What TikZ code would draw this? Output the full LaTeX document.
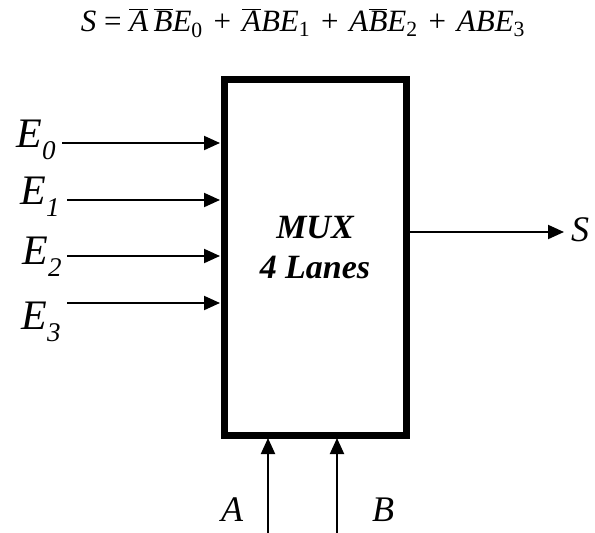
\documentclass[tikz,border=0pt]{standalone}
\usepackage{fontspec}
\setmainfont{Liberation Serif}
\usetikzlibrary{arrows.meta}
\tikzset{
  wire/.style={line width=2pt,-{Triangle[length=16pt,width=14pt]}},
  lbl/.style={inner sep=0pt,font=\fontsize{42}{42}\selectfont\itshape},
  lblab/.style={inner sep=0pt,font=\fontsize{36}{36}\selectfont\itshape},
  muxbox/.style={draw,line width=7pt,minimum width=182pt,minimum height=356pt,inner sep=0pt},
}
\newcommand{\sbs}[1]{\raisebox{-0.28em}{\fontsize{27}{27}\selectfont #1}}
\newcommand{\nb}[1]{$\overline{\mbox{\textit{#1}}}$}
\newcommand{\pl}{\hspace{0.35em}+\hspace{0.35em}}
\begin{document}
\begin{tikzpicture}[x=1pt,y=-1pt]
\useasboundingbox (0,0) rectangle (595,533);
\node[inner sep=0pt,font=\fontsize{31}{31}\selectfont] (eq) at (303,23)
  {\textit{S} = \nb{A}\,\nb{B}\textit{E}\textsubscript{0}\pl\nb{A}\textit{BE}\textsubscript{1}\pl\textit{A}\nb{B}\textit{E}\textsubscript{2}\pl\textit{ABE}\textsubscript{3}};
\node[muxbox] (mux) at (315,257) {};
\node[inner sep=0pt,align=center,font=\fontsize{34}{40}\selectfont\bfseries\itshape] (t) at (315,248) {MUX\\4 Lanes};
\coordinate (i0) at (220,143);
\coordinate (i1) at (220,200);
\coordinate (i2) at (220,256);
\coordinate (i3) at (220,303);
\coordinate (s0) at (62,143);
\coordinate (s1) at (67,200);
\coordinate (s2) at (67,256);
\coordinate (s3) at (67,303);
\node[lbl] (e0) at (36,140) {E\sbs{0}};
\node[lbl] (e1) at (40,197) {E\sbs{1}};
\node[lbl] (e2) at (42,257) {E\sbs{2}};
\node[lbl] (e3) at (41,322) {E\sbs{3}};
\foreach \k in {0,1,2,3} \draw[wire] (s\k) -- (i\k);
\coordinate (o0) at (410,232);
\coordinate (o1) at (564,232);
\draw[wire] (o0) -- (o1);
\node[lblab,anchor=west] (s) at (571,230) {S};
\coordinate (a0) at (268,533);
\coordinate (a1) at (268,438);
\coordinate (b0) at (337,533);
\coordinate (b1) at (337,438);
\draw[wire] (a0) -- (a1);
\draw[wire] (b0) -- (b1);
\node[lblab] (A) at (232,510) {A};
\node[lblab] (B) at (383,510) {B};
\end{tikzpicture}
\end{document}
